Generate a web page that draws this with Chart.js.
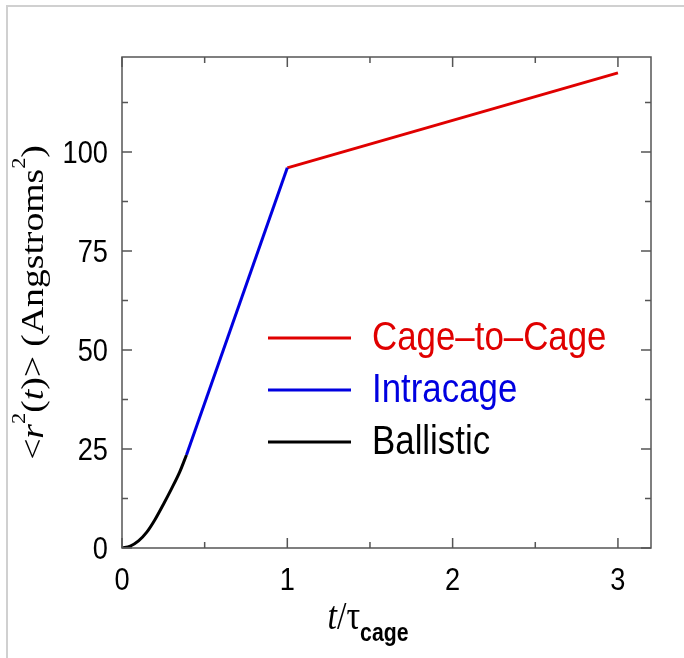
<!DOCTYPE html>
<html>
<head>
<meta charset="utf-8">
<script src="https://cdn.jsdelivr.net/npm/chart.js@4.4.1/dist/chart.umd.min.js"></script>
<style>
  html, body { margin: 0; padding: 0; background: #fff; }
  #wrap { position: relative; width: 684px; height: 658px; overflow: hidden; }
  #frame { position: absolute; left: 6px; top: 5px; right: 0; bottom: 0; border-top: 2px solid #d0d0d0; border-left: 2px solid #d0d0d0; }
  canvas { position: absolute; left: 0; top: 0; }
</style>
</head>
<body>
<div id="wrap"><div id="frame"></div><canvas id="c" width="684" height="658"></canvas></div>
<script>
// values
const ballisticT = [0, 0.05, 0.1, 0.15, 0.2, 0.25, 0.3, 0.35, 0.39];
const ballisticR = [0, 0.5, 1.8, 4.0, 7.2, 11.0, 15.0, 19.3, 23.5];
const intraT = [0.39, 1.0];
const intraR = [23.5, 96.0];
const cageT = [1.0, 3.0];
const cageR = [96.0, 120.0];

const xMajor = [0, 1, 2, 3], xMinor = [0.5, 1.5, 2.5];
const yMajor = [0, 25, 50, 75, 100], yMinor = [12.5, 37.5, 62.5, 87.5, 112.5];
const X_MAX = 3.2, Y_MAX = 124;

const RED = '#e00000', BLUE = '#0000e0', BLACK = '#000';
const AXIS = '#555';
const SANS = '"Liberation Sans", Arial, sans-serif';
const SERIF = '"Liberation Serif", "Times New Roman", serif';
const SQ = 0.85; // the original lettering is narrow, squeeze it sideways

// y title pieces: [text, style] — n normal, i italic, s superscript
const yTitle = [['<', 'n'], ['r', 'i'], ['2', 's'], ['(', 'n'], ['t', 'i'], [')> (Angstroms', 'n'], ['2', 's'], [')', 'n']];

const pts = (xs, ys) => xs.map((x, i) => ({ x, y: ys[i] }));

const ds = (label, data, color, extra = {}) => ({ label, data, borderColor: color, backgroundColor: color, borderWidth: 3, pointRadius: 0, fill: false, ...extra });

// text squeezed along its own direction; align: 'left' | 'center' | 'right'
function sqText(ctx, text, x, y, font, align = 'left') {
    ctx.save();
    ctx.font = font;
    ctx.textAlign = align;
    ctx.translate(x, y);
    ctx.scale(SQ, 1);
    ctx.fillText(text, 0, 0);
    ctx.restore();
}

const frame = {
    id: 'frame',
    afterDatasetsDraw(chart) {
        const { ctx, chartArea: a, scales: { x, y } } = chart;
        ctx.save();
        ctx.strokeStyle = AXIS; ctx.lineWidth = 1.5;
        ctx.strokeRect(a.left, a.top, a.right - a.left, a.bottom - a.top);
        ctx.beginPath();
        const xt = (v, len) => { const p = x.getPixelForValue(v); ctx.moveTo(p, a.bottom); ctx.lineTo(p, a.bottom - len); ctx.moveTo(p, a.top); ctx.lineTo(p, a.top + len); };
        const yt = (v, len) => { const p = y.getPixelForValue(v); ctx.moveTo(a.left, p); ctx.lineTo(a.left + len, p); ctx.moveTo(a.right, p); ctx.lineTo(a.right - len, p); };
        xMajor.forEach(v => xt(v, 10)); xMinor.forEach(v => xt(v, 6));
        yMajor.forEach(v => yt(v, 10)); yMinor.forEach(v => yt(v, 6));
        ctx.stroke();

        // tick labels from the scales' own ticks
        ctx.fillStyle = '#000';
        ctx.textBaseline = 'alphabetic';
        x.ticks.forEach(t => sqText(ctx, t.label, x.getPixelForValue(t.value), a.bottom + 42, `32px ${SANS}`, 'center'));
        y.ticks.forEach(t => sqText(ctx, t.label, a.left - 14, y.getPixelForValue(t.value) + 11, `32px ${SANS}`, 'right'));
        ctx.restore();
    }
};

const legend = {
    id: 'legendInside',
    afterDatasetsDraw(chart) {
        const { ctx, chartArea: a } = chart;
        const items = chart.data.datasets.slice().reverse();
        ctx.save();
        ctx.textBaseline = 'middle';
        items.forEach((d, i) => {
            const yy = a.top + 281 + i * 52;
            ctx.strokeStyle = d.borderColor; ctx.lineWidth = 3;
            ctx.beginPath(); ctx.moveTo(a.left + 146, yy); ctx.lineTo(a.left + 229, yy); ctx.stroke();
            ctx.fillStyle = d.borderColor;
            sqText(ctx, d.label, a.left + 250, yy + 1, `41px ${SANS}`);
        });
        ctx.restore();
    }
};

const titles = {
    id: 'titles',
    afterDraw(chart) {
        const { ctx, chartArea: a } = chart;
        ctx.save();
        ctx.fillStyle = '#000';
        // y title, rotated; the long direction is stretched like the rest of the lettering
        const fs = 32;
        const fontOf = st => st === 'i' ? `italic ${fs}px ${SERIF}` : st === 's' ? `${Math.round(fs * 0.6)}px ${SERIF}` : `${fs}px ${SERIF}`;
        let w = 0;
        yTitle.forEach(([t, st]) => { ctx.font = fontOf(st); w += ctx.measureText(t).width; });
        ctx.translate(43, (a.top + a.bottom) / 2);
        ctx.rotate(-Math.PI / 2);
        ctx.scale(1 / SQ, 1);
        ctx.textBaseline = 'alphabetic';
        let cx = -w / 2;
        yTitle.forEach(([t, st]) => {
            ctx.font = fontOf(st);
            ctx.fillText(t, cx, st === 's' ? -fs * 0.55 : 0);
            cx += ctx.measureText(t).width;
        });
        ctx.setTransform(1, 0, 0, 1, 0, 0);
        // x title: t/τ with bold subscript "cage"
        const parts = [['t', `italic 40px ${SERIF}`, 0], ['/', `40px ${SERIF}`, 0], ['τ', `40px ${SERIF}`, 0], ['cage', `bold 25px ${SANS}`, 12]];
        let tw = 0;
        parts.forEach(([t, f]) => { ctx.font = f; tw += ctx.measureText(t).width * SQ; });
        let px = 368 - tw / 2;
        parts.forEach(([t, f, dy]) => { sqText(ctx, t, px, 629 + dy, f); ctx.font = f; px += ctx.measureText(t).width * SQ; });
        ctx.restore();
    }
};

new Chart(document.getElementById('c'), {
    type: 'line',
    data: {
        datasets: [
            ds('Ballistic', pts(ballisticT, ballisticR), BLACK, { tension: 0.3, cubicInterpolationMode: 'monotone' }),
            ds('Intracage', pts(intraT, intraR), BLUE),
            ds('Cage\u2013to\u2013Cage', pts(cageT, cageR), RED),
        ]
    },
    options: {
        responsive: false, animation: false,
        layout: { padding: { top: 57, right: 33, left: 0, bottom: 0 } },
        plugins: { legend: { display: false }, tooltip: { enabled: false } },
        scales: {
            x: {
                type: 'linear', min: 0, max: X_MAX,
                afterBuildTicks: s => { s.ticks = xMajor.map(v => ({ value: v })); },
                afterFit: s => { s.height = 110; },
                grid: { display: false, drawTicks: false }, border: { display: false },
                ticks: { display: false },
            },
            y: {
                type: 'linear', min: 0, max: Y_MAX,
                afterBuildTicks: s => { s.ticks = yMajor.map(v => ({ value: v })); },
                afterFit: s => { s.width = 122; },
                grid: { display: false, drawTicks: false }, border: { display: false },
                ticks: { display: false },
            },
        },
    },
    plugins: [frame, legend, titles],
});
</script>
</body>
</html>
